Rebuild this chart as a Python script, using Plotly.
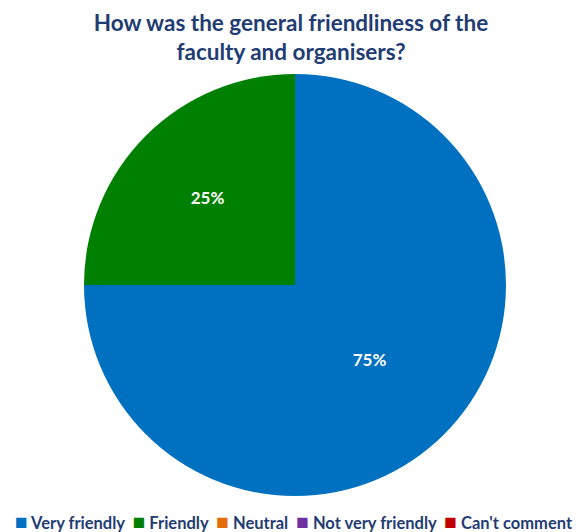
import plotly.graph_objects as go

labels = ["Very friendly", "Friendly", "Neutral", "Not very friendly", "Can't comment"]
values = [75, 25, 0, 0, 0]
colors = ["#0070C0", "#008000", "#E36C09", "#7030A0", "#C00000"]

navy = "#1F3C73"

fig = go.Figure(go.Pie(
    labels=labels,
    values=values,
    sort=False,
    direction="clockwise",
    rotation=0,
    marker=dict(colors=colors, line=dict(width=0)),
    textinfo="percent",
    texttemplate="%{percent:.0%}",
    textposition="inside",
    insidetextorientation="horizontal",
    insidetextfont=dict(color="white", size=17, family="Lato", weight="bold"),
    hoverinfo="label+percent",
    showlegend=False,
))

# Legend row (one line, like the original), built from labels and colours
nb = "\u00a0"
items = [
    f"<span style='color:{c};font-size:21px'>■</span>{nb}{lab}"
    for lab, c in zip(labels, colors)
]
legend_text = (nb * 2).join(items)

fig.add_annotation(
    text=legend_text,
    xref="paper", yref="paper",
    x=0.4976, y=-0.057,
    xanchor="center", yanchor="middle",
    showarrow=False,
    font=dict(family="Lato", size=16.5, color=navy, weight="bold"),
)

fig.update_layout(
    width=582, height=532,
    margin=dict(l=84, r=76, t=74, b=36),
    paper_bgcolor="white",
    plot_bgcolor="white",
    showlegend=False,
    title=dict(
        text="<b>How was the general friendliness of the<br>faculty and organisers?</b>",
        x=0.5, xanchor="center",
        y=0.942, yanchor="top",
        font=dict(family="Lato", size=22.5, color=navy),
    ),
)

fig.write_html(
    "out.html",
    config={"displayModeBar": False},
    post_script="document.body.style.margin='0';",
)
